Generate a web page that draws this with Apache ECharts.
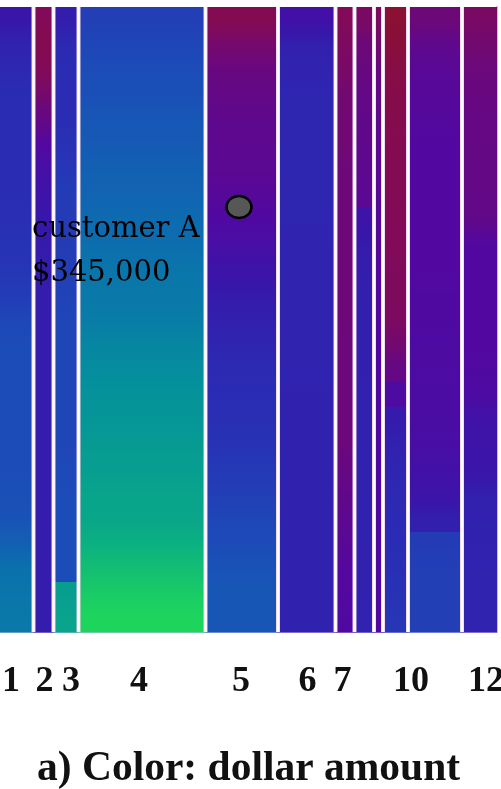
<!DOCTYPE html>
<html>
<head>
<meta charset="utf-8">
<script src="https://cdn.jsdelivr.net/npm/echarts@6/dist/echarts.min.js"></script>
<style>html,body{margin:0;padding:0;background:#fff;}#c{width:501px;height:789px;}</style>
</head>
<body>
<div id="c"></div>
<script>
// strip boundaries along x (cumulative width units)
const stripEdges = [0, 33.5, 53.5, 78.5, 205.5, 278, 335.5, 354.5, 374, 383, 408, 462, 497];
// tick labels and their positions
const tickLabels = ['1', '2', '3', '4', '5', '6', '7', '10', '12'];
const tickPositions = [11, 44.5, 71, 139, 241, 307.5, 342.5, 411, 486];
// colour value per row (top to bottom, 25 rows) for each strip; 0 = red end, 10 = green end
const strip1  = [4.0, 4.6, 4.8, 5, 5, 5, 5, 5, 5.1, 5.2, 5.3, 5.5, 5.8, 6, 6, 6, 6, 6, 6, 6.1, 6.2, 6.6, 7.1, 7.2, 7.3];
const strip2  = [1, 0.8, 1, 1.5, 2.2, 3, 3.5, 3.8, 4, 4.2, 4.3, 4.3, 4.3, 4.3, 4.3, 4.3, 4.3, 4.3, 4.3, 4.3, 4.3, 4.3, 4.3, 4.3, 4.3];
const strip3  = [4.3, 4.8, 5, 5, 5, 5.2, 5.3, 5.5, 5.5, 5.5, 5.6, 5.7, 5.8, 5.8, 5.8, 5.8, 5.8, 5.8, 5.9, 6, 6, 6, 6, 8.5, 8.7];
const strip4  = [5.6, 5.8, 6, 6.1, 6.3, 6.4, 6.6, 6.7, 6.9, 7, 7.2, 7.3, 7.4, 7.7, 7.9, 8.1, 8.2, 8.4, 8.5, 8.7, 8.8, 9.1, 9.4, 9.7, 9.9];
const strip5  = [0.8, 1.5, 2, 2.2, 2.4, 2.5, 2.6, 2.8, 3.1, 3.4, 3.8, 4.2, 4.4, 4.7, 4.9, 5, 5.1, 5.2, 5.4, 5.6, 5.8, 6, 6.2, 6.3, 6.3];
const strip6  = [3.6, 4.4, 4.6, 4.7, 4.7, 4.7, 4.7, 4.7, 4.7, 4.6, 4.6, 4.6, 4.6, 4.6, 4.6, 4.5, 4.5, 4.5, 4.5, 4.5, 4.5, 4.5, 4.5, 4.5, 4.5];
const strip7  = [1, 1.2, 1.4, 1.6, 1.7, 1.7, 1.8, 1.8, 1.8, 1.8, 1.8, 1.8, 1.8, 1.9, 1.9, 1.9, 1.9, 1.9, 2.1, 2.3, 2.5, 2.7, 2.9, 3, 3.1];
const strip8  = [1.3, 1.8, 2, 2.2, 2.3, 2.4, 2.5, 2.6, 3.8, 4.2, 4.3, 4.4, 4.4, 4.4, 4.4, 4.5, 4.5, 4.5, 4.5, 4.5, 4.5, 4.5, 4.5, 4.5, 4.6];
const strip9  = [1.2, 1.6, 2, 2.2, 2.4, 2.5, 2.6, 2.7, 2.8, 2.8, 2.9, 2.9, 3, 3, 3, 3, 3, 3, 3, 3, 3, 3, 3, 3, 3];
const strip10 = [0, 0.2, 0.5, 0.6, 0.7, 0.8, 0.9, 0.9, 1, 1, 1.1, 1.1, 1.2, 1.6, 2.2, 3.2, 4.2, 4.5, 4.7, 4.8, 4.9, 5, 5.1, 5.2, 5.3];
const strip11 = [1.8, 2.4, 2.7, 2.8, 2.9, 3, 3, 3, 3, 3, 3, 3.1, 3.1, 3.2, 3.2, 3.3, 3.3, 3.4, 3.6, 3.8, 4.4, 5.5, 5.6, 5.6, 5.6];
const strip12 = [1.3, 1.6, 1.9, 2, 2.1, 2.1, 2.2, 2.2, 2.3, 3, 3, 3, 3, 3, 3.1, 3.2, 3.7, 3.8, 3.9, 4.4, 4.5, 4.5, 4.6, 4.6, 4.6];
const strips = [strip1, strip2, strip3, strip4, strip5, strip6, strip7, strip8, strip9, strip10, strip11, strip12];
// highlighted customer
const customerPoint = [239, 8.0];
const customerText = 'customer A\n$345,000';

const palette = ['#8a1034', '#820a58', '#680880', '#5208a0', '#3816aa', '#2a2cb4', '#1c4cb8', '#0c6eae', '#04909c', '#0aac84', '#20da58'];
const vMin = 0, vMax = 10;
const colorAt = v => echarts.color.lerp(Math.max(0, Math.min(1, (v - vMin) / (vMax - vMin))), palette);

const rows = strip1.length;
const cells = [];
strips.forEach((arr, s) => arr.forEach((v, r) => cells.push([s, r, v])));
const separators = stripEdges.slice(1, -1).map(e => [e]);

const chart = echarts.init(document.getElementById('c'), null, {renderer: 'canvas'});
chart.setOption({
  animation: false,
  backgroundColor: '#ffffff',
  title: {
    text: 'a) Color: dollar amount',
    left: 32,
    top: 743,
    textStyle: {fontFamily: '"Liberation Serif"', fontWeight: 'bold', fontSize: 41.5, color: '#111'}
  },
  grid: {left: 0, top: 7, right: 4, bottom: 157, containLabel: false, outerBoundsMode: 'none'},
  xAxis: {
    type: 'value', min: 0, max: stripEdges[stripEdges.length - 1],
    axisLine: {show: true, onZero: false, lineStyle: {color: '#c4bdf2', width: 2}},
    axisTick: {show: false},
    splitLine: {show: false},
    axisLabel: {
      customValues: tickPositions,
      formatter: v => { const i = tickPositions.indexOf(v); return i >= 0 ? tickLabels[i] : ''; },
      margin: 32,
      fontFamily: '"Liberation Serif"', fontWeight: 'bold', fontSize: 36, color: '#111'
    }
  },
  yAxis: {
    type: 'value', min: 0, max: rows, inverse: true, position: 'right',
    axisLine: {show: true, onZero: false, lineStyle: {color: '#cdb4f6', width: 2}},
    axisTick: {show: false}, axisLabel: {show: false}, splitLine: {show: false}
  },
  visualMap: {
    show: false, type: 'continuous', min: vMin, max: vMax, dimension: 2, seriesIndex: 0,
    inRange: {color: palette}
  },
  graphic: [{
    type: 'text', left: 32, top: 207, z: 100,
    style: {text: customerText, font: '29px "DejaVu Serif"', lineHeight: 44, fill: '#000'}
  }],
  series: [{
    type: 'custom',
    data: cells,
    encode: {x: 0, y: 1},
    renderItem: (params, api) => {
      const s = api.value(0), r = api.value(1), v = api.value(2);
      const arr = strips[s];
      const p0 = api.coord([stripEdges[s], r]);
      const p1 = api.coord([stripEdges[s + 1], r + 1]);
      const mid = api.visual('color');
      const prev = r > 0 ? arr[r - 1] : v;
      const next = r < arr.length - 1 ? arr[r + 1] : v;
      const topC = Math.abs(prev - v) < 0.9 ? colorAt((prev + v) / 2) : mid;
      const botC = Math.abs(next - v) < 0.9 ? colorAt((next + v) / 2) : mid;
      return {
        type: 'rect',
        shape: {x: p0[0], y: p0[1], width: p1[0] - p0[0], height: p1[1] - p0[1] + 0.6},
        style: {fill: new echarts.graphic.LinearGradient(0, 0, 0, 1, [
          {offset: 0, color: topC}, {offset: 0.5, color: mid}, {offset: 1, color: botC}
        ])}
      };
    }
  }, {
    type: 'custom',
    data: separators,
    encode: {x: 0},
    z: 3,
    renderItem: (params, api) => {
      const top = api.coord([api.value(0), 0]);
      const bot = api.coord([api.value(0), rows]);
      const x = top[0];
      return {
        type: 'group',
        children: [
          {type: 'rect', shape: {x: x - 2, y: top[1], width: 4, height: bot[1] - top[1]}, style: {fill: '#efd2ef'}},
          {type: 'rect', shape: {x: x - 1.2, y: top[1], width: 2.4, height: bot[1] - top[1]}, style: {fill: '#ffffff'}}
        ]
      };
    }
  }, {
    type: 'scatter',
    data: [customerPoint],
    symbol: 'circle',
    symbolSize: [25, 22],
    itemStyle: {color: '#575757', borderColor: '#000', borderWidth: 2.5, opacity: 1},
    z: 10
  }]
});
</script>
</body>
</html>
